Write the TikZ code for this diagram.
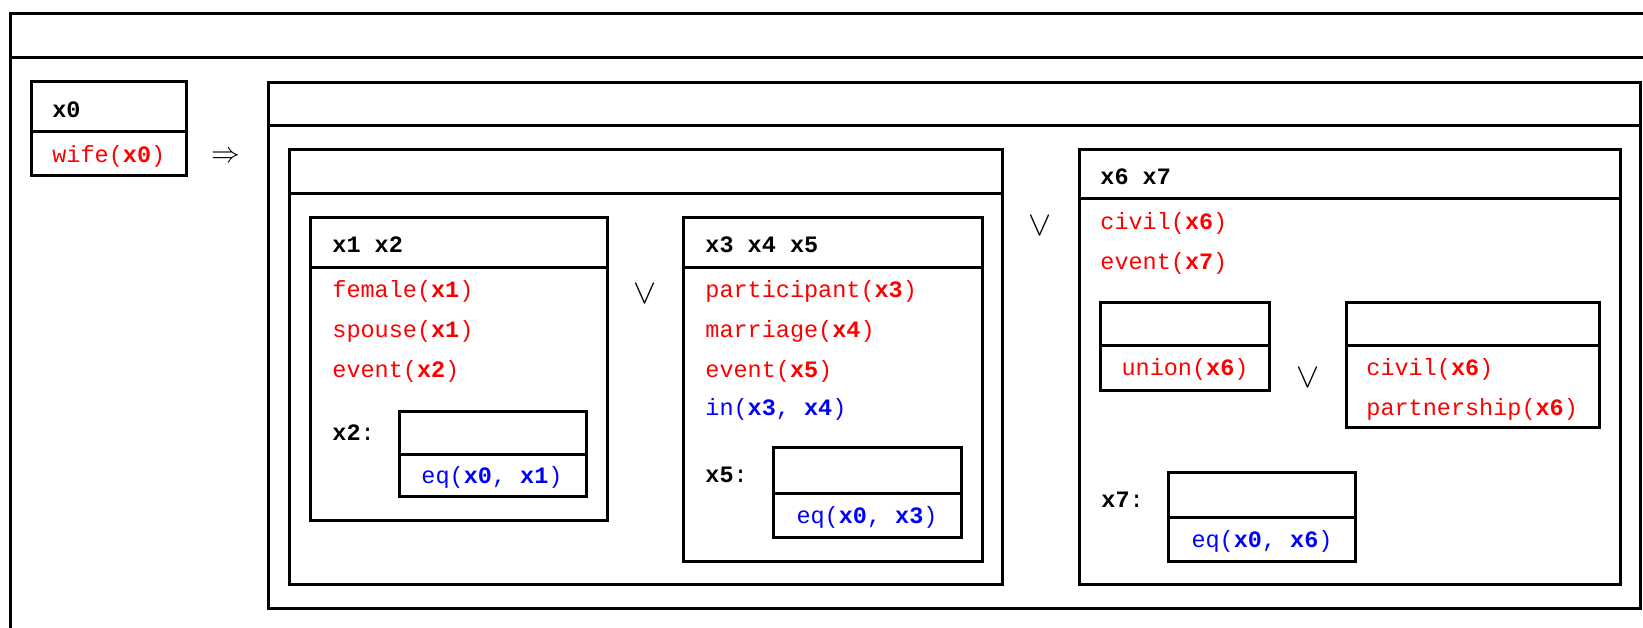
\documentclass[tikz,border=0pt]{standalone}
\usepackage{fontspec}
\newfontfamily\drsfont{Liberation Mono}
\usepackage{tikz}
\definecolor{condred}{RGB}{255,0,0}
\definecolor{condblue}{RGB}{0,0,255}
\newcommand\dvar[1]{\textbf{x#1}}

\begin{document}
\begin{tikzpicture}
[x=0.5pt,y=-0.5pt,
every node/.style={font=\drsfont\fontsize{11.75}{14}\selectfont,inner sep=0pt,text height=9pt,text depth=2pt},
box/.style={draw,line width=1.5pt},
refs/.style={anchor=west},
cond/.style={anchor=west,text=condred},
rel/.style={text=condblue},
op/.style={font=\fontsize{18}{18}\selectfont,text height=10pt,text depth=0pt}]

\useasboundingbox (0,0) rectangle (1643,627);
\clip (0,0) rectangle (1643,627);

% boxes: left/top/right/bottom/divider
\foreach \l/\t/\r/\b/\d in {10/13/1700/700/57, 31/81/186/175/131,
  268/82/1640/608/125, 289/149/1002/584/193,
  310/217/607/520/267, 399/411/586/496/454,
  683/217/982/561/267, 773/447/961/537/493,
  1079/149/1620/584/198, 1100/302/1269/390/345,
  1346/302/1599/427/345, 1168/472/1355/561/517}
  \draw[box] (\l,\t) rectangle (\r,\b) (\l,\d) -- (\r,\d);

\node[refs] (x0) at (52,110) {\dvar{0}};
\node[cond] (wife) at (52,155) {wife(\dvar{0})};
\node[font=\fontsize{13.5}{14}\selectfont] (impl) at (226,155) {$\Rightarrow$};

% first disjunct
\node[refs] (x1x2) at (332,245) {\dvar{1} \dvar{2}};
\node[cond] (female) at (332,290) {female(\dvar{1})};
\node[cond] (spouse) at (332,330) {spouse(\dvar{1})};
\node[cond] (event2) at (332,370) {event(\dvar{2})};
\node[refs] (lab2) at (332,433) {\dvar{2}:};
\node[rel] (eq1) at (492,476) {eq(\dvar{0}, \dvar{1})};
\node[op] (or1) at (645,293) {$\vee$};

\node[refs] (x3x4x5) at (705,245) {\dvar{3} \dvar{4} \dvar{5}};
\node[cond] (particip) at (705,290) {participant(\dvar{3})};
\node[cond] (marriage) at (705,330) {marriage(\dvar{4})};
\node[cond] (event5) at (705,370) {event(\dvar{5})};
\node[refs,text=condblue] (in) at (705,408) {in(\dvar{3}, \dvar{4})};
\node[refs] (lab5) at (705,475) {\dvar{5}:};
\node[rel] (eq3) at (867,516) {eq(\dvar{0}, \dvar{3})};

\node[op] (or2) at (1040,225) {$\vee$};

% second disjunct
\node[refs] (x6x7) at (1100,177) {\dvar{6} \dvar{7}};
\node[cond] (civil) at (1100,222) {civil(\dvar{6})};
\node[cond] (event7) at (1100,262) {event(\dvar{7})};
\node[text=condred] (union) at (1185,368) {union(\dvar{6})};
\node[op] (or3) at (1308,377) {$\vee$};
\node[cond] (civil2) at (1366,368) {civil(\dvar{6})};
\node[cond] (partner) at (1366,408) {partnership(\dvar{6})};
\node[refs] (lab7) at (1101,500) {\dvar{7}:};
\node[rel] (eq6) at (1262,540) {eq(\dvar{0}, \dvar{6})};
\end{tikzpicture}
\end{document}
